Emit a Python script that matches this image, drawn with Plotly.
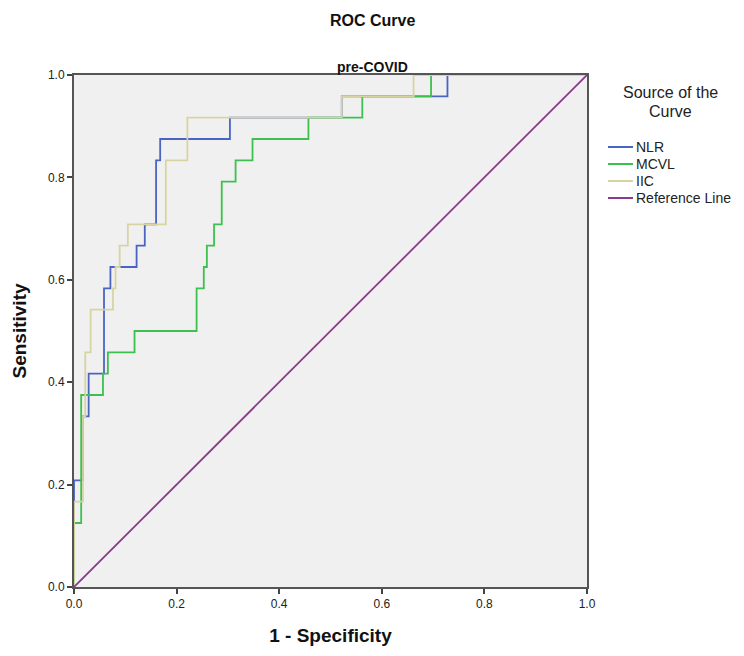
import plotly.graph_objects as go

# ROC corner points (1 - specificity, sensitivity), step curves drawn horizontal-then-vertical
nlr_fpr = [0.0, 0.0, 0.0175, 0.0286, 0.0585, 0.071, 0.122, 0.138, 0.160, 0.168, 0.304, 0.522, 0.728, 1.0]
nlr_tpr = [0.0, 0.2083, 0.3333, 0.4167, 0.5833, 0.625, 0.6667, 0.7083, 0.8333, 0.875, 0.9167, 0.9583, 1.0, 1.0]

mcvl_fpr = [0.0, 0.0, 0.014, 0.0565, 0.066, 0.118, 0.239, 0.253, 0.259, 0.273, 0.288, 0.315, 0.348, 0.457, 0.562, 0.696, 1.0]
mcvl_tpr = [0.0, 0.125, 0.375, 0.4167, 0.4583, 0.5, 0.5833, 0.625, 0.6667, 0.7083, 0.7917, 0.8333, 0.875, 0.9167, 0.9583, 1.0, 1.0]

iic_fpr = [0.0, 0.0, 0.0175, 0.022, 0.0325, 0.076, 0.081, 0.089, 0.105, 0.179, 0.221, 0.522, 0.662, 1.0]
iic_tpr = [0.0, 0.1667, 0.3333, 0.4583, 0.5417, 0.5833, 0.625, 0.6667, 0.7083, 0.8333, 0.9167, 0.9583, 1.0, 1.0]

ref_x = [0.0, 1.0]
ref_y = [0.0, 1.0]

series_names = ["NLR", "MCVL", "IIC", "Reference Line"]
series_colors = ["#4A64C2", "#3CC14E", "#D8D4A2", "#8B3A8C"]

tick_vals = [0.0, 0.2, 0.4, 0.6, 0.8, 1.0]
tick_text = ["0.0", "0.2", "0.4", "0.6", "0.8", "1.0"]

FONT = "Liberation Sans, Arial, sans-serif"

# screen-pixel helpers for the plot frame (plot area spans x 74..587, y 75..587 on screen)
PX0, PX1, PY0, PY1 = 74, 587, 75, 587
def px(x):
    return (x - PX0) / (PX1 - PX0)
def py(y):
    return (PY1 - y) / (PY1 - PY0)

fig = go.Figure()
series = [(nlr_fpr, nlr_tpr, "hv"), (mcvl_fpr, mcvl_tpr, "hv"), (iic_fpr, iic_tpr, "hv"), (ref_x, ref_y, "linear")]
for (xs, ys, shp), name, col in zip(series, series_names, series_colors):
    fig.add_trace(go.Scatter(x=xs, y=ys, mode="lines", name=name, showlegend=False,
                             line=dict(color=col, width=1.8, shape=shp)))

axis_common = dict(
    range=[0, 1], tickvals=tick_vals, ticktext=tick_text, automargin=False,
    showgrid=False, zeroline=False, showline=True, linecolor="#555555", linewidth=2,
    mirror=True, ticks="outside", ticklen=5, tickwidth=1.5, tickcolor="#444444",
    tickfont=dict(family=FONT, size=12, color="#222222"),
)

# page body adds an 8px offset; margins compensate so the frame lands at 74..587 / 75..587
OFF = 8
fig.update_layout(
    width=744, height=656,
    margin=dict(l=PX0 - OFF, r=744 - (PX1 - OFF), t=PY0 - OFF, b=656 - (PY1 - OFF), autoexpand=False),
    paper_bgcolor="white", plot_bgcolor="#F0F0F0",
    font=dict(family=FONT, color="#222222"),
    xaxis=dict(**axis_common,
               title=dict(text="<b>1 - Specificity</b>", font=dict(family=FONT, size=19, color="#111111"), standoff=18)),
    yaxis=dict(**axis_common,
               title=dict(text="<b>Sensitivity</b>", font=dict(family=FONT, size=19, color="#111111"), standoff=16)),
    showlegend=False,
)

annotations = [
    dict(text="<b>ROC Curve</b>", x=px(372), y=py(20), font=dict(family=FONT, size=16, color="#111111")),
    dict(text="<b>pre-COVID</b>", x=px(372), y=py(67), font=dict(family=FONT, size=14, color="#111111")),
    dict(text="Source of the", x=px(670), y=py(92), font=dict(family=FONT, size=16, color="#222222")),
    dict(text="Curve", x=px(670), y=py(111), font=dict(family=FONT, size=16, color="#222222")),
]
for a in annotations:
    a.update(xref="paper", yref="paper", xanchor="center", yanchor="middle", showarrow=False)

shapes = []
legend_rows = [147, 164, 181, 198]
for name, col, row in zip(series_names, series_colors, legend_rows):
    shapes.append(dict(type="line", xref="paper", yref="paper", x0=px(608), x1=px(633), y0=py(row), y1=py(row),
                       line=dict(color=col, width=2)))
    annotations.append(dict(text=name, xref="paper", yref="paper", x=px(634), y=py(row), xanchor="left",
                            yanchor="middle", showarrow=False, font=dict(family=FONT, size=14, color="#222222")))

fig.update_layout(annotations=annotations, shapes=shapes)
fig.write_html("out.html")
